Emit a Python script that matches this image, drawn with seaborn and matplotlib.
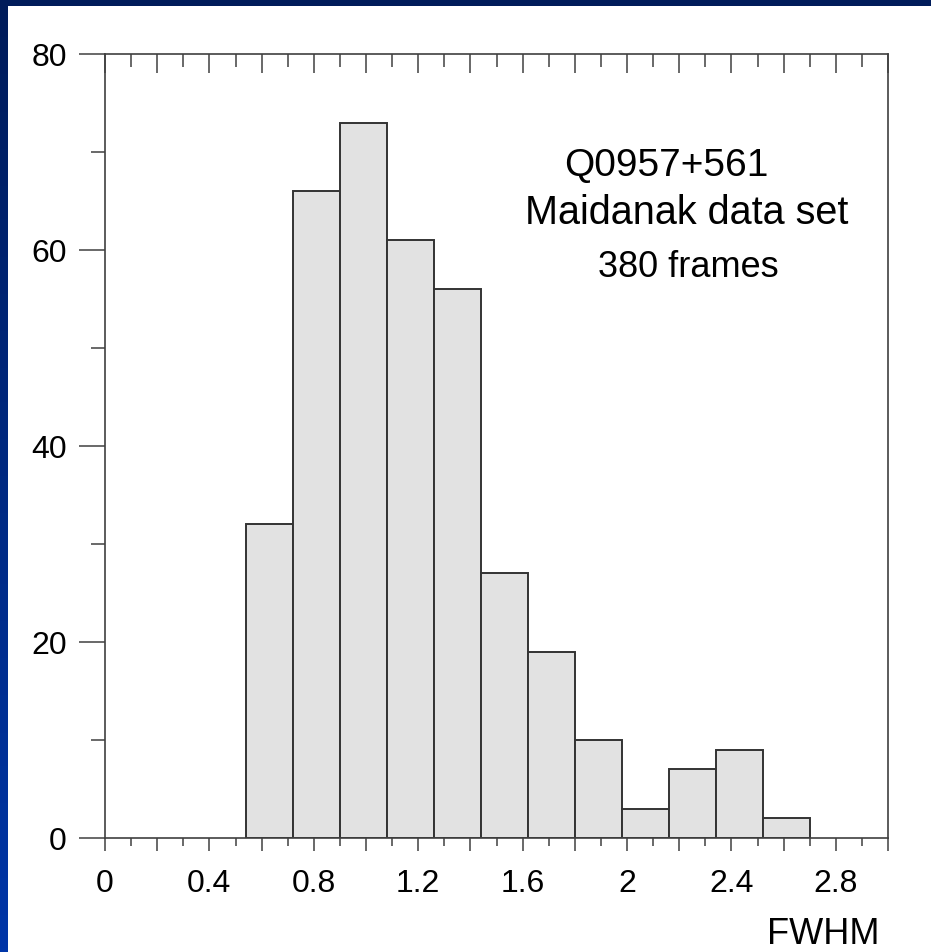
import numpy as np
import matplotlib
matplotlib.use("Agg")
import matplotlib.pyplot as plt
import seaborn as sns
from matplotlib.colors import LinearSegmentedColormap
from matplotlib.ticker import MultipleLocator, FixedLocator, FuncFormatter

# FWHM histogram of the Q0957+561 frames
bin_edges = [0.54, 0.72, 0.90, 1.08, 1.26, 1.44, 1.62, 1.80, 1.98, 2.16, 2.34, 2.52, 2.70]
counts = [32, 66, 73, 61, 56, 27, 19, 10, 3, 7, 9, 2]
x_tick_labels = ["0", "0.4", "0.8", "1.2", "1.6", "2", "2.4", "2.8"]
y_tick_labels = ["0", "20", "40", "60", "80"]

bin_centers = [(a + b) / 2 for a, b in zip(bin_edges[:-1], bin_edges[1:])]

sns.set_theme(style="white")
plt.rcParams["font.family"] = ["Liberation Sans", "DejaVu Sans"]

W, H = 931, 952
fig = plt.figure(figsize=(W / 100, H / 100), dpi=100)
fig.patch.set_facecolor("white")

# blue slide frame on the left and top edges
frame_cmap = LinearSegmentedColormap.from_list("frame", ["#001c5a", "#0036a8"])
left_strip = fig.add_axes([0, 0, 8 / W, 1])
left_strip.imshow(np.linspace(0, 1, 256).reshape(-1, 1), aspect="auto", cmap=frame_cmap)
left_strip.set_axis_off()
top_strip = fig.add_axes([0, 1 - 6 / H, 1, 6 / H])
top_strip.imshow(np.zeros((1, 2)), aspect="auto", cmap=frame_cmap, vmin=0, vmax=1)
top_strip.set_axis_off()

ax = fig.add_axes([105 / W, 114 / H, (888 - 105) / W, (898 - 114) / H])
sns.histplot(x=bin_centers, weights=counts, bins=bin_edges, ax=ax,
             color="#e2e2e2", edgecolor="#333333", linewidth=1.4, alpha=1.0)

ax.set_xlim(0, 3.0)
ax.set_ylim(0, 80)
ax.set_xlabel("")
ax.set_ylabel("")

line_col = "#404040"
for side in ["left", "right", "top", "bottom"]:
    ax.spines[side].set_color(line_col)
    ax.spines[side].set_linewidth(1.2)
    ax.spines[side].set_visible(True)

# x axis: long ticks every 0.2, short every 0.1, labels every 0.4
major_x = [i * 0.2 for i in range(16)]
ax.xaxis.set_major_locator(FixedLocator(major_x))
ax.xaxis.set_minor_locator(MultipleLocator(0.1))
label_map = {round(i * 0.4, 1): t for i, t in enumerate(x_tick_labels)}
ax.xaxis.set_major_formatter(FuncFormatter(lambda v, p: label_map.get(round(v, 1), "")))
ax.tick_params(axis="x", which="major", direction="out", length=9.3, width=1.1,
               color=line_col, labelsize=23, pad=13, labelcolor="black", bottom=True)
ax.tick_params(axis="x", which="minor", direction="out", length=6, width=1.1,
               color=line_col, bottom=True)

top = ax.secondary_xaxis("top")
top.xaxis.set_major_locator(FixedLocator(major_x))
top.xaxis.set_minor_locator(MultipleLocator(0.1))
top.tick_params(axis="x", which="major", direction="in", length=13.5, width=1.1,
                color=line_col, labeltop=False)
top.tick_params(axis="x", which="minor", direction="in", length=9.5, width=1.1,
                color=line_col)
top.spines["top"].set_visible(False)

# y axis: labelled every 20, short ticks at 10
ax.yaxis.set_major_locator(FixedLocator([0, 20, 40, 60, 80]))
ax.yaxis.set_major_formatter(FuncFormatter(lambda v, p: y_tick_labels[int(round(v / 20))]))
ax.yaxis.set_minor_locator(MultipleLocator(10))
ax.tick_params(axis="y", which="major", direction="out", length=18.5, width=1.1,
               color=line_col, labelsize=23, pad=9, labelcolor="black", left=True)
ax.tick_params(axis="y", which="minor", direction="out", length=10, width=1.1,
               color=line_col, left=True)

ax.text(2.151, 67.55, "Q0957+561", ha="center", va="baseline", fontsize=28, color="black")
ax.text(2.228, 62.65, "Maidanak data set", ha="center", va="baseline", fontsize=28.5, color="black")
ax.text(2.234, 57.24, "380 frames", ha="center", va="baseline", fontsize=26, color="black")

fig.text(879 / W, 1 - 944 / H, "FWHM", ha="right", va="baseline", fontsize=26, color="black")

fig.savefig("out.png", dpi=100, facecolor=fig.get_facecolor())
